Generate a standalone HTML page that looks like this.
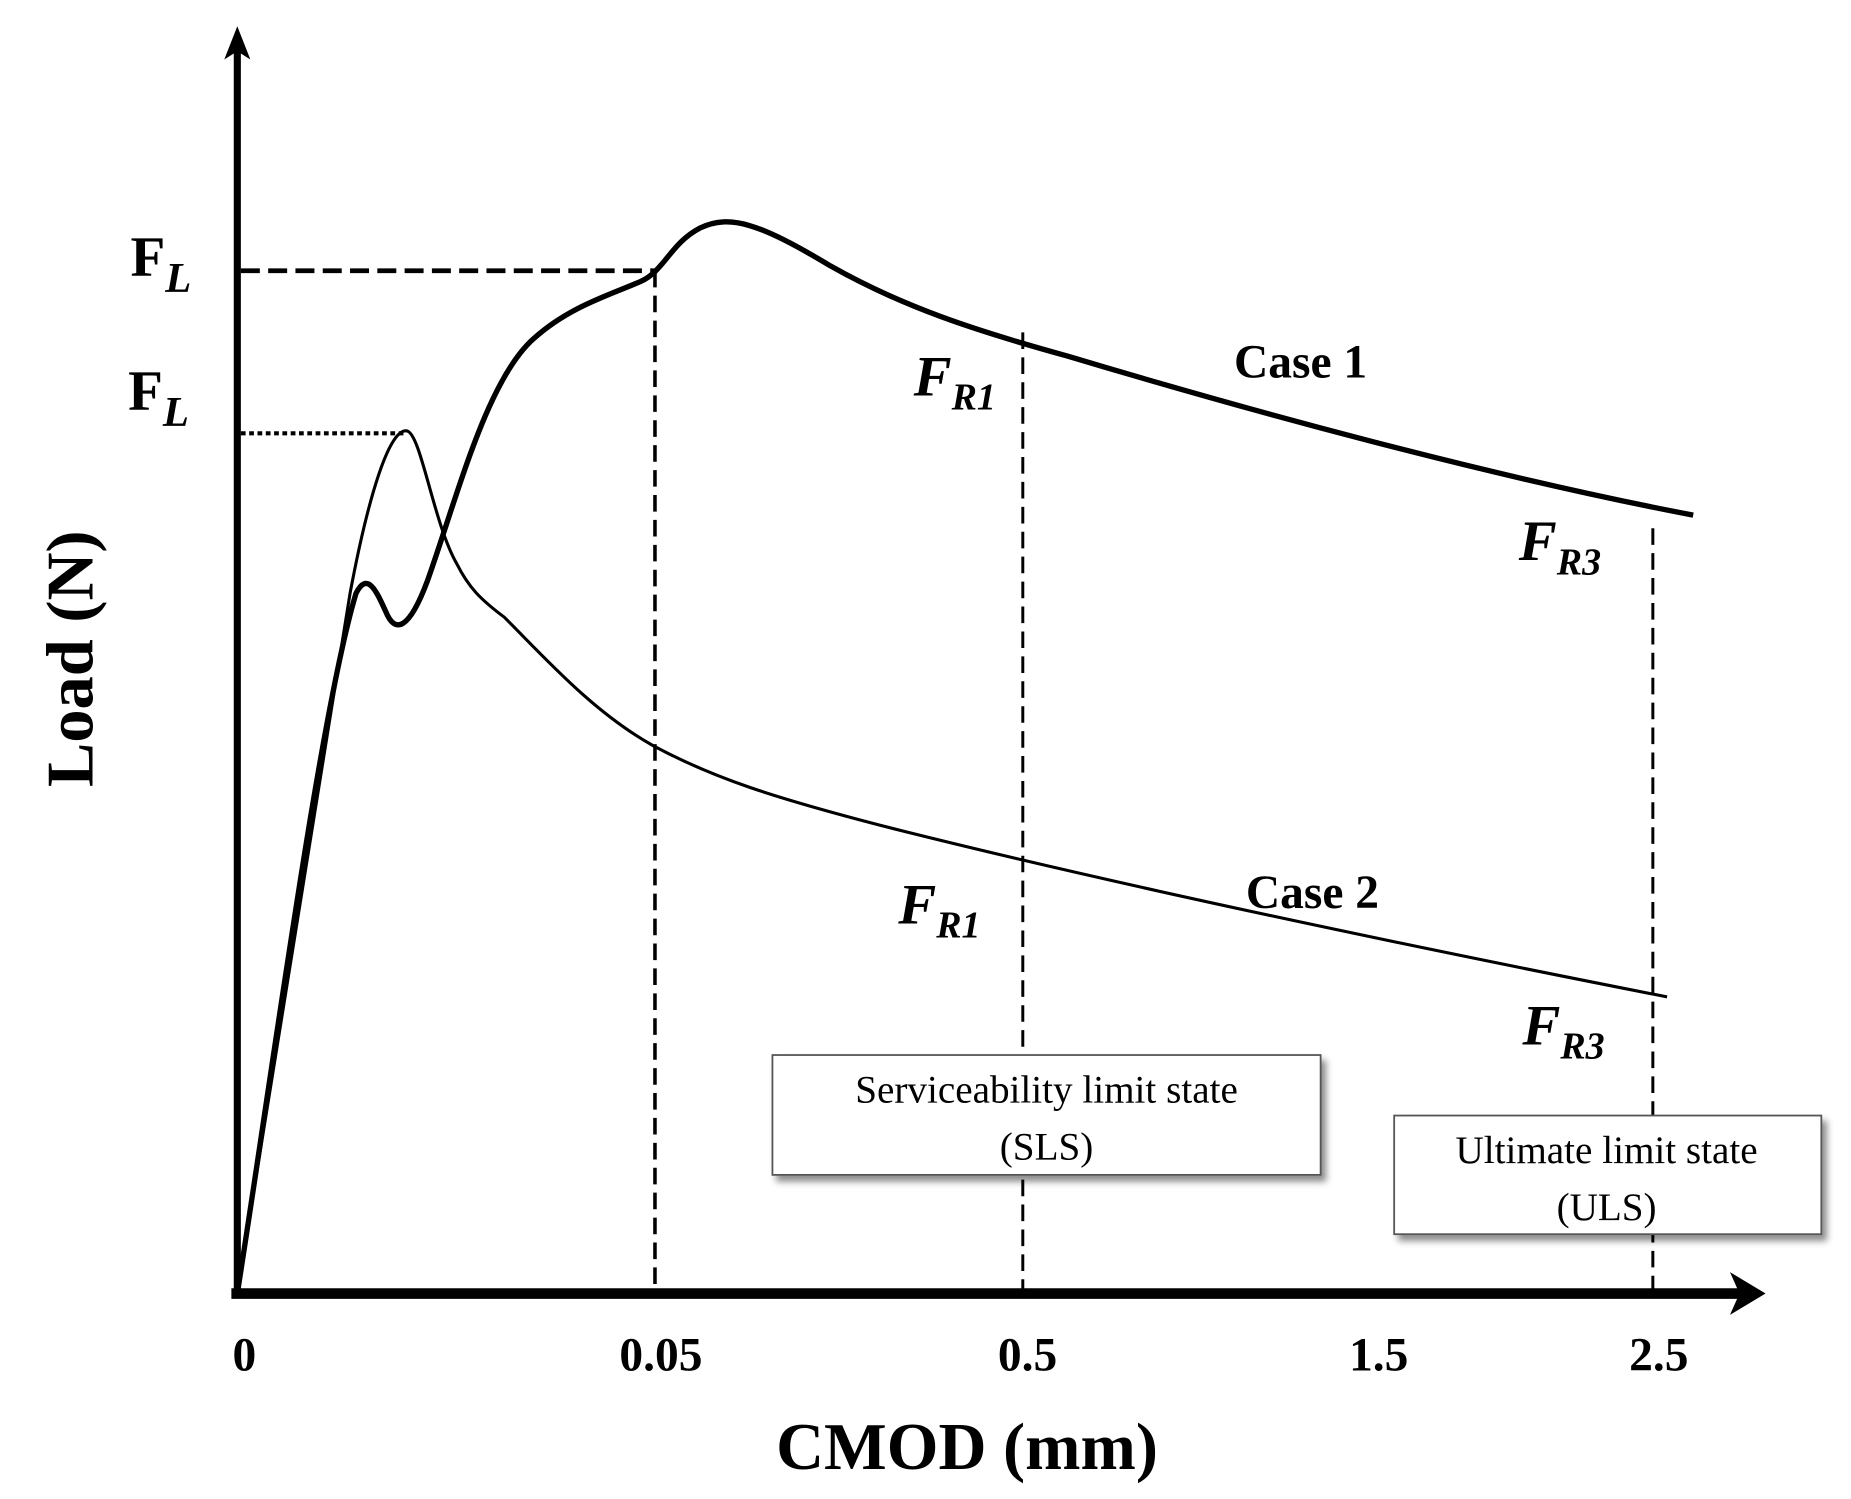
<!DOCTYPE html>
<html><head><meta charset="utf-8"><style>html,body{margin:0;padding:0;background:#fff}svg{display:block}</style></head>
<body>
<svg width="1851" height="1499" viewBox="0 0 1560 1263" xmlns="http://www.w3.org/2000/svg" font-family="Liberation Serif, serif">
<defs><filter id="sh" x="-5%" y="-5%" width="115%" height="125%"><feDropShadow dx="4" dy="5" stdDeviation="3" flood-color="#000" flood-opacity="0.45"/></filter></defs>
<!-- axes -->
<line x1="200" y1="1092" x2="200" y2="40" stroke="#000" stroke-width="6"/>
<polygon points="200,22 189,50 200,43 211,50" fill="#000"/>
<line x1="195" y1="1090" x2="1470" y2="1090" stroke="#000" stroke-width="9"/>
<polygon points="1488,1090 1458,1072 1466,1090 1458,1108" fill="#000"/>
<!-- reference lines -->
<line x1="203" y1="228" x2="552" y2="228" stroke="#000" stroke-width="4" stroke-dasharray="16,7"/>
<line x1="552" y1="228" x2="552" y2="1088" stroke="#000" stroke-width="3" stroke-dasharray="14,7"/>
<line x1="203" y1="365" x2="342" y2="365" stroke="#000" stroke-width="3.5" stroke-dasharray="4,3"/>
<line x1="862" y1="280" x2="862" y2="1088" stroke="#000" stroke-width="2.5" stroke-dasharray="14,7"/>
<line x1="1393" y1="445" x2="1393" y2="1088" stroke="#000" stroke-width="2.5" stroke-dasharray="14,7"/>
<!-- case 1 -->
<path d="M200,1090 C230,900 270,600 300,500 C310,480 318,500 325,515 C333,535 345,530 360,490 C385,420 410,320 450,285 C480,258 515,248 540,237 C560,228 565,205 590,192 C615,180 640,188 700,224 C760,258 820,278 900,300 C1050,345 1250,400 1427,434" fill="none" stroke="#000" stroke-width="4.5"/>
<!-- case 2 -->
<path d="M200,1090 C240,850 270,650 295,500 C310,420 328,360 343,363 C355,366 365,440 385,475 C395,495 405,505 425,520 C460,555 500,600 550,628 C600,655 650,672 760,700 C900,735 1100,780 1405,840" fill="none" stroke="#000" stroke-width="2.6"/>
<!-- tick labels -->
<g font-weight="bold" font-size="40" text-anchor="middle">
<text x="206" y="1155">0</text><text x="557" y="1155">0.05</text><text x="866" y="1155">0.5</text><text x="1162" y="1155">1.5</text><text x="1398" y="1155">2.5</text>
</g>
<text x="815" y="1238" font-weight="bold" font-size="56" text-anchor="middle">CMOD (mm)</text>
<text transform="translate(78,555) rotate(-90)" font-weight="bold" font-size="56" text-anchor="middle">Load (N)</text>
<!-- F_L labels -->
<g font-weight="bold" font-size="48">
<text x="110" y="232">F<tspan font-style="italic" font-size="36" dy="14">L</tspan></text>
<text x="108" y="345">F<tspan font-style="italic" font-size="36" dy="14">L</tspan></text>
</g>
<g font-weight="bold" font-style="italic" font-size="48">
<text x="770" y="333">F<tspan font-size="32" dy="12">R1</tspan></text>
<text x="1280" y="472">F<tspan font-size="32" dy="12">R3</tspan></text>
<text x="757" y="778">F<tspan font-size="32" dy="12">R1</tspan></text>
<text x="1283" y="880">F<tspan font-size="32" dy="12">R3</tspan></text>
</g>
<g font-weight="bold" font-size="40">
<text x="1040" y="318">Case 1</text>
<text x="1050" y="765">Case 2</text>
</g>
<!-- boxes -->
<rect x="651" y="889" width="462" height="101" fill="#fff" stroke="#555" stroke-width="1.5" filter="url(#sh)"/>
<text x="882" y="929" font-size="33" text-anchor="middle">Serviceability  limit state</text>
<text x="882" y="977" font-size="33" text-anchor="middle">(SLS)</text>
<rect x="1175" y="940" width="360" height="100" fill="#fff" stroke="#555" stroke-width="1.5" filter="url(#sh)"/>
<text x="1354" y="980" font-size="33" text-anchor="middle">Ultimate limit state</text>
<text x="1354" y="1028" font-size="33" text-anchor="middle">(ULS)</text>
</svg>
</body></html>
